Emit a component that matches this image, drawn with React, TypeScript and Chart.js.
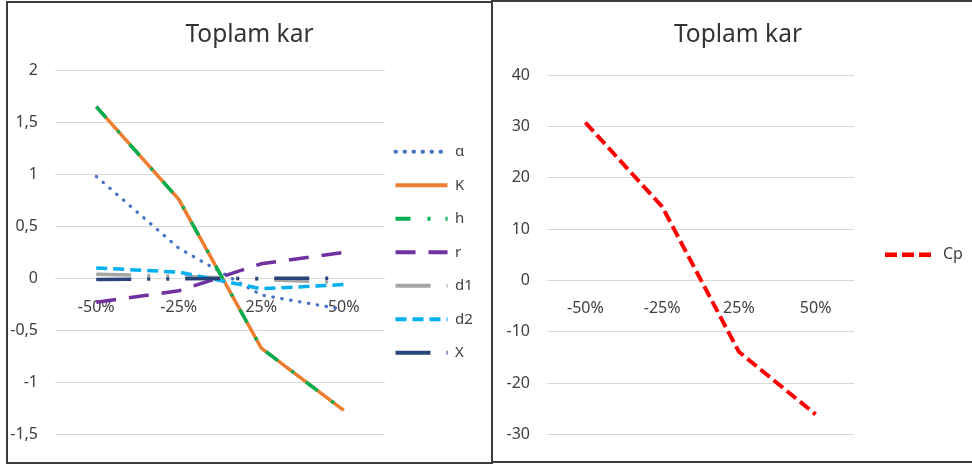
import React, { useEffect, useRef } from 'react';
import { Chart, registerables } from 'chart.js';

Chart.register(...registerables);

// ---- data ----
const categories = ['-50%', '-25%', '25%', '50%'];
const alphaValues = [0.98, 0.29, -0.16, -0.3];
const kValues = [1.65, 0.76, -0.67, -1.27];
const hValues = [1.65, 0.76, -0.67, -1.27];
const rValues = [-0.23, -0.12, 0.14, 0.25];
const d1Values = [0.04, 0.02, -0.01, -0.04];
const d2Values = [0.1, 0.06, -0.1, -0.06];
const xValues = [-0.01, -0.005, 0, 0];
const cpValues = [30.8, 14.4, -13.9, -26.1];
const leftYTicks = [-1.5, -1, -0.5, 0, 0.5, 1, 1.5, 2];
const rightYTicks = [-30, -20, -10, 0, 10, 20, 30, 40];
const chartTitle = 'Toplam kar';

const FONT = "'Noto Sans', sans-serif";
const TEXT = '#404040';
const GRID = '#d9d9d9';

const boxShift = {
  id: 'boxShift',
  afterLayout(chart: any, _args: any, opts: any) {
    const l = chart.legend;
    if (l && opts && opts.legendDx) {
      l.left += opts.legendDx;
      l.right += opts.legendDx;
    }
    const t = chart.titleBlock;
    if (t && opts && opts.titleDx) {
      t.left += opts.titleDx;
      t.right += opts.titleDx;
    }
  },
};

function fmt(v: number) {
  return String(v).replace('.', ',');
}

function makeOptions(cfg: {
  ticks: number[];
  yWidth: number;
  padRight: number;
  padBottom: number;
  titleBottom: number;
  legendPadding: number;
  legendBox: number;
  legendMaxWidth: number;
  legendFont: number;
  legendLineWidth: number;
  xPad: number;
  legendDx: number;
  titleDx: number;
}) {
  return {
    responsive: false,
    animation: false,
    layout: { padding: { left: 0, right: cfg.padRight, top: 0, bottom: cfg.padBottom } },
    elements: { point: { radius: 0, hoverRadius: 0 }, line: { tension: 0 } },
    plugins: {
      title: {
        display: true,
        text: chartTitle,
        color: '#333333',
        font: { family: FONT, size: 24.5, weight: 'normal' },
        padding: { top: 17.3, bottom: cfg.titleBottom },
      },
      legend: {
        position: 'right',
        fullSize: false,
        maxWidth: cfg.legendMaxWidth,
        labels: {
          usePointStyle: true,
          pointStyle: 'line',
          pointStyleWidth: cfg.legendBox,
          padding: cfg.legendPadding,
          color: TEXT,
          font: { family: FONT, size: cfg.legendFont },
          sort: (a: any, b: any) => a.datasetIndex - b.datasetIndex,
          generateLabels: (chart: any) => {
            const base = (Chart.defaults.plugins.legend.labels as any).generateLabels(chart);
            return base.map((it: any) => {
              const d: any = chart.data.datasets[it.datasetIndex];
              return {
                ...it,
                lineDash: d.borderDash,
                lineWidth: cfg.legendLineWidth,
                lineCap: d.borderCapStyle,
                strokeStyle: d.borderColor,
                fillStyle: d.borderColor,
              };
            });
          },
        },
      },
      tooltip: { enabled: false },
      boxShift: { legendDx: cfg.legendDx, titleDx: cfg.titleDx },
    },
    scales: {
      x: {
        type: 'category',
        position: { y: 0 },
        offset: true,
        grid: { display: false, drawTicks: false },
        border: { display: false },
        ticks: { color: TEXT, font: { family: FONT, size: 16 }, padding: cfg.xPad, maxRotation: 0, autoSkip: false },
      },
      y: {
        min: cfg.ticks[0],
        max: cfg.ticks[cfg.ticks.length - 1],
        afterBuildTicks: (scale: any) => {
          scale.ticks = cfg.ticks.map((v) => ({ value: v }));
        },
        afterFit: (scale: any) => {
          scale.width = cfg.yWidth;
        },
        grid: { color: GRID, lineWidth: 1, drawTicks: false },
        border: { display: false },
        ticks: {
          color: TEXT,
          font: { family: FONT, size: 16 },
          padding: 17,
          callback: (v: any) => fmt(Number(v)),
        },
      },
    },
  };
}

function ds(label: string, data: number[], color: string, dash: number[], order: number, width: number, cap = 'butt') {
  return {
    label,
    data,
    borderColor: color,
    backgroundColor: color,
    borderWidth: width,
    borderDash: dash,
    borderCapStyle: cap,
    fill: false,
    pointRadius: 0,
    order,
  };
}

export default function App() {
  const leftRef = useRef<HTMLCanvasElement>(null);
  const rightRef = useRef<HTMLCanvasElement>(null);

  useEffect(() => {
    const left = new Chart(leftRef.current as HTMLCanvasElement, {
      type: 'line',
      data: {
        labels: categories,
        datasets: [
          ds('α', alphaValues, '#4472C4', [0.5, 8.5], 7, 3.2, 'round'),
          ds('K', kValues, '#ED7D31', [], 6, 3.5),
          ds('h', hValues, '#00B050', [15, 17, 3, 15], 5, 3.5),
          ds('r', rValues, '#7030A0', [20, 13], 4, 3.5),
          ds('d1', d1Values, '#A5A5A5', [35, 16, 3, 16, 3, 16], 3, 3.5),
          ds('d2', d2Values, '#00B0F0', [11, 6], 2, 3.5),
          ds('X', xValues, '#264478', [35, 16, 3, 16, 3, 16], 1, 3.5),
        ],
      },
      options: makeOptions({
        ticks: leftYTicks,
        yWidth: 47,
        padRight: 5,
        padBottom: 19,
        titleBottom: 20.6,
        legendPadding: 18.5,
        legendBox: 52,
        legendMaxWidth: 100,
        legendFont: 15,
        legendLineWidth: 4,
        xPad: 19,
        legendDx: -8,
        titleDx: 3,
      }) as any,
      plugins: [boxShift],
    });

    const right = new Chart(rightRef.current as HTMLCanvasElement, {
      type: 'line',
      data: {
        labels: categories,
        datasets: [ds('Cp', cpValues, '#FF0000', [12, 5], 1, 4)],
      },
      options: makeOptions({
        ticks: rightYTicks,
        yWidth: 53,
        padRight: 8,
        padBottom: 22,
        titleBottom: 25.6,
        legendPadding: 31,
        legendBox: 50,
        legendMaxWidth: 110,
        legendFont: 16,
        legendLineWidth: 4.5,
        xPad: 18,
        legendDx: 0,
        titleDx: 9,
      }) as any,
      plugins: [boxShift],
    });

    return () => {
      left.destroy();
      right.destroy();
    };
  }, []);

  return (
    <div style={{ position: 'fixed', left: 0, top: 0, width: 972, height: 466, background: '#ffffff', overflow: 'hidden' }}>
      <div
        style={{
          position: 'absolute',
          left: 6,
          top: 1,
          width: 487,
          height: 463,
          boxSizing: 'border-box',
          border: '2px solid #3b3b3b',
        }}
      />
      <div
        style={{
          position: 'absolute',
          left: 491,
          top: 0,
          width: 490,
          height: 463,
          boxSizing: 'border-box',
          border: '2px solid #3b3b3b',
        }}
      />
      <canvas
        ref={leftRef}
        width={482}
        height={458}
        style={{ position: 'absolute', left: 8, top: 3, width: 482, height: 458, display: 'block' }}
      />
      <canvas
        ref={rightRef}
        width={478}
        height={458}
        style={{ position: 'absolute', left: 494, top: 3, width: 478, height: 458, display: 'block' }}
      />
    </div>
  );
}
